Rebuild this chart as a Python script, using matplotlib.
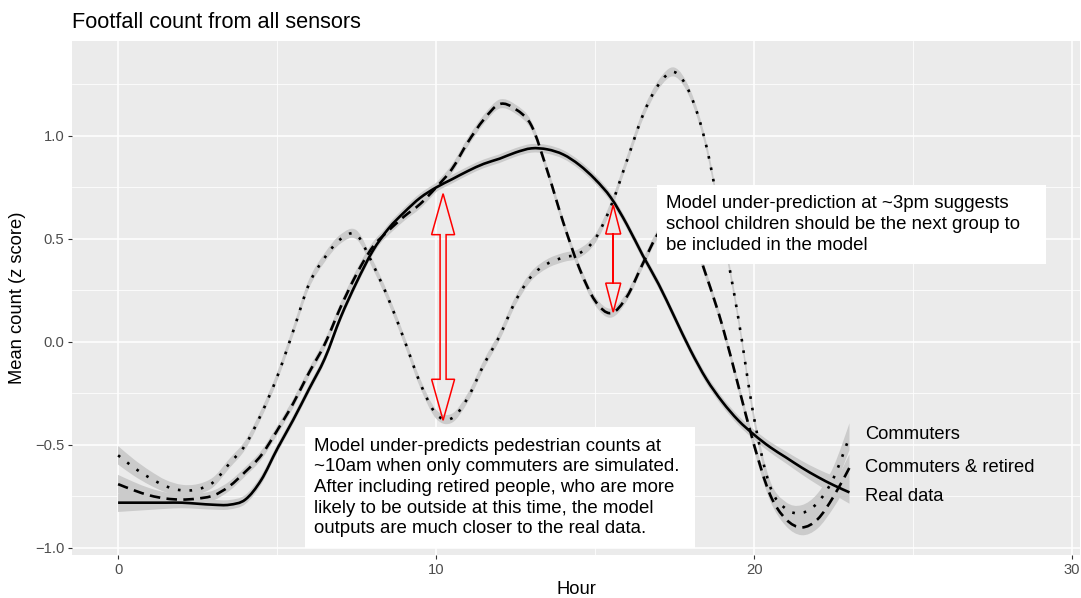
import numpy as np
import matplotlib
matplotlib.use("Agg")
import matplotlib.pyplot as plt
from matplotlib.patches import Polygon, Rectangle, PathPatch
from matplotlib.path import Path

plt.rcParams['font.family'] = ['Liberation Sans', 'DejaVu Sans']

# hours of the day, half-hour steps
hours = np.arange(0, 23.5, 0.5)

real_data = [-0.78, -0.78, -0.78, -0.78, -0.78, -0.785, -0.79, -0.79, -0.765, -0.67,
             -0.52, -0.38, -0.23, -0.08, 0.12, 0.29, 0.44, 0.55, 0.63, 0.70,
             0.75, 0.79, 0.83, 0.865, 0.89, 0.92, 0.94, 0.935, 0.91, 0.86,
             0.79, 0.70, 0.57, 0.42, 0.28, 0.12, -0.04, -0.18, -0.29, -0.38,
             -0.45, -0.51, -0.56, -0.61, -0.655, -0.695, -0.73]

commuters_retired = [-0.69, -0.72, -0.745, -0.76, -0.765, -0.76, -0.745, -0.70, -0.63, -0.55,
                     -0.43, -0.30, -0.15, -0.01, 0.17, 0.33, 0.46, 0.54, 0.61, 0.67,
                     0.75, 0.84, 0.97, 1.08, 1.155, 1.13, 1.05, 0.83, 0.58, 0.36,
                     0.20, 0.14, 0.22, 0.38, 0.53, 0.60, 0.53, 0.32, 0.08, -0.21,
                     -0.50, -0.74, -0.86, -0.90, -0.86, -0.75, -0.61]

commuters = [-0.55, -0.61, -0.66, -0.70, -0.72, -0.715, -0.68, -0.59, -0.50, -0.35,
             -0.17, 0.05, 0.28, 0.41, 0.50, 0.52, 0.38, 0.21, 0.01, -0.20,
             -0.35, -0.37, -0.27, -0.11, 0.03, 0.20, 0.32, 0.38, 0.41, 0.43,
             0.50, 0.66, 0.88, 1.10, 1.25, 1.31, 1.20, 0.95, 0.55, 0.12,
             -0.37, -0.70, -0.81, -0.83, -0.78, -0.66, -0.46]

# half widths of the confidence ribbons
real_band = [0.045, 0.04, 0.035, 0.03, 0.027, 0.025, 0.024, 0.023, 0.022, 0.022] + [0.021] * 27 + \
            [0.022, 0.022, 0.023, 0.024, 0.026, 0.029, 0.033, 0.038, 0.045, 0.055]
model_band = [0.045, 0.04, 0.035, 0.03, 0.027, 0.025, 0.024, 0.023, 0.022] + [0.022] * 29 + \
             [0.023, 0.024, 0.026, 0.029, 0.033, 0.038, 0.045, 0.055, 0.065]

series_names = ["Commuters", "Commuters & retired", "Real data"]
label_y = [-0.45, -0.607, -0.752]

note_10am = ("Model under-predicts pedestrian counts at\n"
             "~10am when only commuters are simulated.\n"
             "After including retired people, who are more\n"
             "likely to be outside at this time, the model\n"
             "outputs are much closer to the real data.")
note_3pm = ("Model under-prediction at ~3pm suggests\n"
            "school children should be the next group to\n"
            "be included in the model")

fig = plt.figure(figsize=(10.81, 5.98), dpi=100)
ax = fig.add_axes([0.0666, 0.0719, 0.9325, 0.8595])
ax.set_facecolor('#EBEBEB')
for s in ax.spines.values():
    s.set_visible(False)
ax.set_xlim(-1.45, 30.25)
ax.set_ylim(-1.034, 1.461)

ax.set_xticks([0, 10, 20, 30])
ax.set_xticklabels(['0', '10', '20', '30'])
ax.set_xticks([5, 15, 25], minor=True)
ax.set_yticks([-1.0, -0.5, 0.0, 0.5, 1.0])
ax.set_yticklabels(['\u22121.0', '\u22120.5', '0.0', '0.5', '1.0'])
ax.set_yticks([-0.75, -0.25, 0.25, 0.75, 1.25], minor=True)
ax.grid(which='major', color='white', lw=1.1)
ax.grid(which='minor', color='white', lw=0.55)
ax.set_axisbelow(True)
ax.tick_params(which='major', length=3, width=0.8, color='#333333', labelcolor='#4D4D4D',
               labelsize=10.6, pad=2.5)
ax.tick_params(which='minor', length=0)


def bezier_parts(x, y):
    # smooth curve through the points (Catmull-Rom as cubic Bezier segments)
    pts = np.column_stack([x, y])
    n = len(pts)
    verts, codes = [], []
    for i in range(n - 1):
        p0 = pts[max(i - 1, 0)]
        p1, p2 = pts[i], pts[i + 1]
        p3 = pts[min(i + 2, n - 1)]
        verts += [p1 + (p2 - p0) / 6, p2 - (p3 - p1) / 6, p2]
        codes += [Path.CURVE4] * 3
    return pts[0], verts, codes


def smooth_line(x, y, **kw):
    start, verts, codes = bezier_parts(x, y)
    path = Path([start] + verts, [Path.MOVETO] + codes)
    ax.add_patch(PathPatch(path, fill=False, **kw))


def smooth_ribbon(x, y, half, **kw):
    y = np.array(y)
    half = np.array(half)
    s1, v1, c1 = bezier_parts(x, y + half)
    s2, v2, c2 = bezier_parts(x[::-1], (y - half)[::-1])
    verts = [s1] + v1 + [s2] + v2 + [s1]
    codes = [Path.MOVETO] + c1 + [Path.LINETO] + c2 + [Path.CLOSEPOLY]
    ax.add_patch(PathPatch(Path(verts, codes), **kw))


band_col = '#CBCBCB'
smooth_ribbon(hours, commuters, model_band, facecolor=band_col, edgecolor='none', zorder=2)
smooth_ribbon(hours, commuters_retired, model_band, facecolor=band_col, edgecolor='none', zorder=2)
smooth_ribbon(hours, real_data, real_band, facecolor=band_col, edgecolor='none', zorder=2)

smooth_line(hours, commuters, edgecolor='black', lw=1.9, linestyle=(0, (1.0, 3.4)),
            capstyle='butt', zorder=3)
smooth_line(hours, commuters_retired, edgecolor='black', lw=1.9, linestyle=(0, (4.0, 2.4)),
            capstyle='butt', zorder=3)
smooth_line(hours, real_data, edgecolor='black', lw=1.9, zorder=3)

for name, yy in zip(series_names, label_y):
    ax.text(23.5, yy, name, ha='left', va='center', fontsize=13.2, color='black', zorder=5)


def double_arrow(x, y0, y1, head_w, head_l, shaft_w):
    # build the outline in pixels, then back to data units
    px, b = ax.transData.transform((x, y0))
    _, t = ax.transData.transform((x, y1))
    hw, sw = head_w / 2, shaft_w / 2
    pts = [(px, t), (px + hw, t - head_l), (px + sw, t - head_l), (px + sw, b + head_l),
           (px + hw, b + head_l), (px, b), (px - hw, b + head_l), (px - sw, b + head_l),
           (px - sw, t - head_l), (px - hw, t - head_l)]
    data_pts = ax.transData.inverted().transform(pts)
    ax.add_patch(Polygon(data_pts, closed=True, fill=False, edgecolor='red', lw=1.1, zorder=6))


double_arrow(10.22, -0.38, 0.72, 23, 41, 6)
double_arrow(15.57, 0.145, 0.665, 15, 29, 0)

# annotation boxes
ax.add_patch(Rectangle((5.88, -1.0), 12.26, 0.587, facecolor='white', edgecolor='none', zorder=4))
ax.text(6.16, -0.706, note_10am, ha='left', va='center', fontsize=13.4, linespacing=1.28, zorder=5)
ax.add_patch(Rectangle((16.95, 0.379), 12.23, 0.383, facecolor='white', edgecolor='none', zorder=4))
ax.text(17.23, 0.570, note_3pm, ha='left', va='center', fontsize=13.4, linespacing=1.28, zorder=5)

fig.text(0.0666, 1 - 28 / 598, "Footfall count from all sensors", fontsize=15.7, ha='left', va='baseline')
fig.text(0.533, 1 - 590 / 598, "Hour", fontsize=13.2, ha='center', va='center')
fig.text(18 / 1081, 1 - 298 / 598, "Mean count (z score)", fontsize=13.2, rotation=90,
         ha='center', va='center')

fig.savefig("out.png", dpi=100)
